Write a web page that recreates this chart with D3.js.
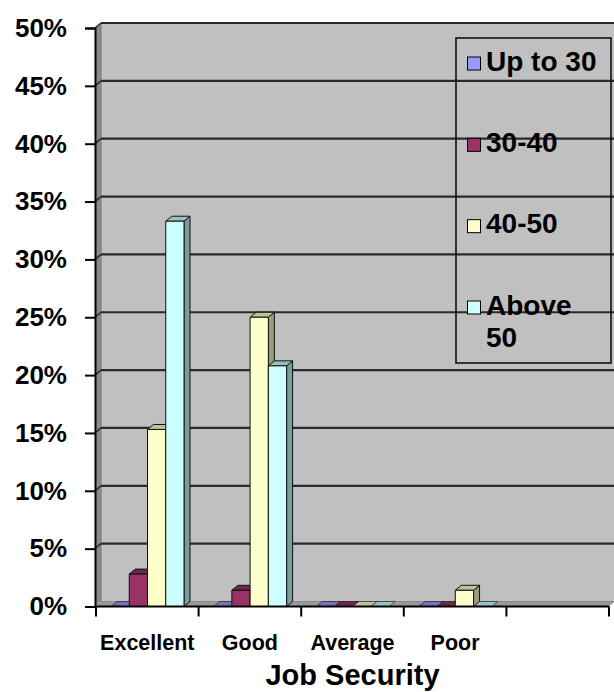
<!DOCTYPE html>
<html><head><meta charset="utf-8">
<script src="https://cdn.jsdelivr.net/npm/d3@7"></script>
<style>
html,body{margin:0;padding:0;background:#fff;}
svg{display:block;font-family:"Liberation Sans",Arial,sans-serif;font-weight:bold;}
</style></head>
<body>
<svg id="chart" width="614" height="692"></svg>
<script>
const categories = ["Excellent", "Good", "Average", "Poor", ""];
const seriesNames = ["Up to 30", "30-40", "40-50", "Above 50"];
const seriesColors = ["#9999FF", "#993366", "#FFFFCC", "#CCFFFF"];
const upTo30 = [0, 0, 0, 0];
const age30to40 = [2.8, 1.4, 0, 0];
const age40to50 = [15.3, 25.0, 0, 1.4];
const above50 = [33.3, 20.8, 0, 0];
const yTicks = [0, 5, 10, 15, 20, 25, 30, 35, 40, 45, 50];
const legendLines = [["Up to 30"], ["30-40"], ["40-50"], ["Above", "50"]];
const xTitle = "Job Security";

const seriesValues = [upTo30, age30to40, age40to50, above50];

const svg = d3.select("#chart");
const W = 614;
const DX = 6, DY = -5; // 3D depth offset

const x = d3.scaleBand().domain(categories).range([96, 609]).padding(0);
const xs = d3.scaleBand().domain(seriesNames).range([15, 88]).padding(0);
const y = d3.scaleLinear().domain([0, 50]).range([606.5, 28]);

const y0 = y(0), yTop = y(50);
const xL = x.range()[0] - 1, xR = x.range()[1];

// side wall
svg.append("polygon")
  .attr("points", [[xL, yTop], [xL + DX, yTop + DY], [xL + DX, y0 + DY], [xL, y0]].join(" "))
  .attr("fill", "#8a8a8a");
// back wall
svg.append("rect")
  .attr("x", xL + DX).attr("y", yTop + DY)
  .attr("width", W - (xL + DX) + 2).attr("height", y0 - yTop)
  .attr("fill", "#C0C0C0").attr("stroke", "#7a7a7a").attr("stroke-width", 1);
// floor
svg.append("polygon")
  .attr("points", [[xL, y0], [xR, y0], [xR + DX, y0 + DY], [xL + DX, y0 + DY]].join(" "))
  .attr("fill", "#9a9a9a");

// gridlines on back wall and side wall
const grid = svg.append("g");
yTicks.filter(t => t > 0).forEach(t => {
  grid.append("line")
    .attr("x1", xL + DX).attr("x2", W + 2)
    .attr("y1", y(t) + DY).attr("y2", y(t) + DY)
    .attr("stroke", "#2a2a2a").attr("stroke-width", 2.2);
  grid.append("line")
    .attr("x1", xL).attr("x2", xL + DX)
    .attr("y1", y(t)).attr("y2", y(t) + DY)
    .attr("stroke", "#2a2a2a").attr("stroke-width", 1.5);
});

// bars
const barsG = svg.append("g");
categories.forEach((cat, ci) => {
  seriesNames.forEach((s, si) => {
    const v = seriesValues[si][ci];
    if (v === undefined || v === null) return;
    const c = d3.color(seriesColors[si]);
    const topC = c.darker(0.8).formatHex();
    const sideC = c.darker(1.4).formatHex();
    const x0 = x(cat) + xs(s);
    const x1 = x0 + xs.bandwidth();
    const yt = y(v);
    const g = barsG.append("g").attr("stroke", "#111").attr("stroke-width", 1).attr("stroke-linejoin", "round");
    if (v > 0) {
      g.append("polygon")
        .attr("points", [[x1, yt], [x1 + DX, yt + DY], [x1 + DX, y0 + DY], [x1, y0]].join(" "))
        .attr("fill", sideC);
    }
    g.append("polygon")
      .attr("points", [[x0, yt], [x1, yt], [x1 + DX, yt + DY], [x0 + DX, yt + DY]].join(" "))
      .attr("fill", topC).attr("stroke-width", v > 0 ? 1 : 0.6);
    if (v > 0) {
      g.append("rect")
        .attr("x", x0).attr("y", yt)
        .attr("width", x1 - x0).attr("height", y0 - yt)
        .attr("fill", c.formatHex());
    }
  });
});

// y axis
const yAxis = d3.axisLeft(y)
  .tickValues(yTicks)
  .tickFormat(d => d + "%")
  .tickSize(10)
  .tickPadding(18);
const yg = svg.append("g").attr("transform", `translate(${xL},0)`).call(yAxis);
yg.select(".domain").attr("stroke", "#000").attr("stroke-width", 2);
yg.selectAll(".tick line").attr("stroke", "#000").attr("stroke-width", 2);
yg.selectAll(".tick text").attr("font-size", 26).attr("font-weight", "bold")
  .attr("fill", "#000").attr("font-family", "Liberation Sans, Arial, sans-serif");

// x axis: labels at band centres, ticks at band boundaries
const xAxis = d3.axisBottom(x).tickSize(0).tickPadding(28);
const xg = svg.append("g").attr("transform", `translate(0,${y0})`).call(xAxis);
xg.select(".domain").attr("stroke", "#000").attr("stroke-width", 2)
  .attr("d", `M${xL},0H${xR}`);
xg.selectAll(".tick text").attr("font-size", 21.5).attr("font-weight", "bold")
  .attr("fill", "#000").attr("font-family", "Liberation Sans, Arial, sans-serif");
const boundaries = categories.map(c => x(c)).concat([xR]);
xg.selectAll(".bound").data(boundaries).join("line")
  .attr("class", "bound")
  .attr("x1", d => d).attr("x2", d => d)
  .attr("y1", 0).attr("y2", 10)
  .attr("stroke", "#000").attr("stroke-width", 2);

// x title
svg.append("text")
  .attr("x", (x("Average") + x.bandwidth() / 2))
  .attr("y", 685)
  .attr("text-anchor", "middle")
  .attr("font-size", 29).attr("font-weight", "bold")
  .text(xTitle);

// legend
const leg = svg.append("g");
leg.append("rect")
  .attr("x", 456).attr("y", 38).attr("width", 155).attr("height", 325)
  .attr("fill", "none").attr("stroke", "#111").attr("stroke-width", 1.6);
const ly = d3.scalePoint().domain(seriesNames).range([63.5, 307.5]);
seriesNames.forEach((s, i) => {
  const cy = ly(s);
  leg.append("rect")
    .attr("x", 467.5).attr("y", cy - 6.5).attr("width", 13).attr("height", 13)
    .attr("fill", seriesColors[i]).attr("stroke", "#000").attr("stroke-width", 1);
  legendLines[i].forEach((line, li) => {
    leg.append("text")
      .attr("x", 486).attr("y", cy + 7 + li * 32)
      .attr("font-size", 28).attr("font-weight", "bold")
      .attr("fill", "#000")
      .text(line);
  });
});
</script>
</body></html>
